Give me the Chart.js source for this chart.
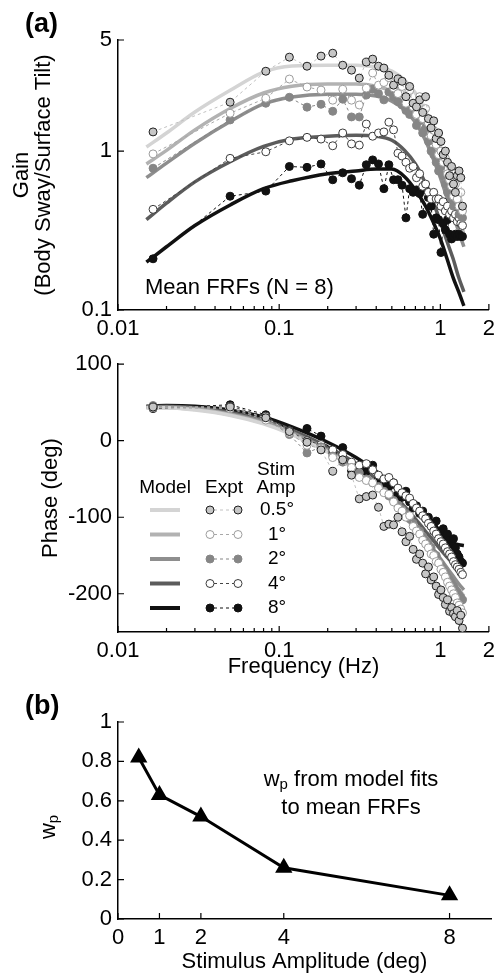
<!DOCTYPE html>
<html>
<head>
<meta charset="utf-8">
<script src="https://cdn.jsdelivr.net/npm/chart.js@4.4.0/dist/chart.umd.min.js"></script>
<style>
body{margin:0;background:#fff;}
#wrap{position:relative;width:501px;height:975px;overflow:hidden;}
canvas{position:absolute;left:0;}
</style>
</head>
<body>
<div id="wrap">
<canvas id="gain" width="501" height="345" style="top:0px"></canvas>
<canvas id="phase" width="501" height="340" style="top:345px"></canvas>
<canvas id="wp" width="501" height="290" style="top:685px"></canvas>
</div>
<script>
// stimulus amplitudes
const amps = ['0.5°', '1°', '2°', '4°', '8°'];

// measured frequencies (Hz), odd harmonics of the stimulus
const freqs = [0.0165,0.0496,0.0826,0.1157,0.1488,0.1818,0.2149,0.2479,0.281,0.314,0.3471,0.3802,0.4132,0.4463,0.4793,0.5124,0.5455,0.5785,0.6116,0.6446,0.6777,0.7107,0.7438,0.7769,0.8099,0.843,0.876,0.9091,0.9421,0.9752,1.0083,1.0413,1.0744,1.1074,1.1405,1.1736,1.2066,1.2397,1.2727,1.3058,1.3388,1.3719];

// experimental gains
const gain05 = [1.32,2.03,3.18,3.9,3.42,3.96,4.13,3.47,3.23,2.88,3.63,3.79,3.42,3.33,3.0,2.6,2.85,2.75,2.2,2.55,2.0,1.9,2.1,1.75,2.2,1.6,1.4,1.55,1.2,1.3,1.15,0.95,1.0,0.85,0.7,0.8,0.62,0.55,0.7,0.75,0.68,0.45];
const gain1 = [0.96,1.73,2.15,2.84,2.53,2.42,2.09,2.45,2.09,1.95,2.49,3.1,2.6,2.7,2.9,2.5,2.3,2.55,2.0,2.4,1.9,1.7,2.2,1.6,1.85,1.5,1.25,1.35,1.1,0.95,1.0,0.85,0.9,0.72,0.66,0.6,0.52,0.62,0.5,0.45,0.55,0.42];
const gain2 = [0.78,1.57,2.0,2.18,1.89,1.97,1.78,2.12,1.64,1.64,2.25,2.45,2.3,2.1,2.35,2.2,2.05,1.95,1.8,1.7,1.9,1.45,1.55,1.3,1.4,1.15,1.0,0.95,0.85,0.75,0.8,0.7,0.62,0.55,0.6,0.5,0.45,0.55,0.48,0.4,0.42,0.38];
const gain4 = [0.43,0.90,0.99,1.16,1.22,1.19,1.08,1.30,1.11,1.09,1.48,1.24,1.30,1.32,1.52,1.36,0.97,0.93,0.85,0.78,0.8,0.68,0.72,0.6,0.62,0.55,0.5,0.55,0.5,0.5,0.45,0.48,0.42,0.45,0.4,0.42,0.38,0.4,0.36,0.38,0.35,0.34];
const gain8 = [0.21,0.52,0.56,0.80,0.79,0.83,0.66,0.73,0.67,0.61,0.82,0.88,0.83,0.58,0.82,0.66,0.66,0.61,0.38,0.58,0.55,0.57,0.54,0.40,0.57,0.51,0.45,0.30,0.38,0.37,0.23,0.35,0.32,0.37,0.30,0.28,0.29,0.30,0.29,0.30,0.29,0.29];

// experimental phases (deg)
const phase05 = [44,44,30,12,-2,-12,-40,-25,-45,-76,-73,-71,-87,-112,-109,-110,-100,-119,-132,-125,-142,-155,-148,-160,-174,-165,-182,-178,-190,-201,-195,-205,-214,-208,-223,-218,-226,-230,-222,-235,-228,-245];
const phase1 = [43,42,27,10,-6,-10,-22,-25,-35,-48,-52,-55,-62,-68,-70,-80,-88,-92,-100,-98,-112,-118,-122,-130,-135,-140,-148,-150,-158,-160,-168,-172,-178,-185,-190,-195,-200,-205,-212,-215,-220,-225];
const phase2 = [46,43,29,8,-16,-8,-20,-28,-35,-42,-50,-55,-60,-66,-72,-78,-84,-90,-95,-102,-108,-115,-118,-125,-130,-135,-140,-148,-150,-158,-162,-168,-172,-178,-182,-186,-190,-195,-198,-202,-205,-208];
const phase4 = [44,45,32,13,0,-5,-12,-18,-28,-32,-30,-38,-45,-50,-48,-55,-62,-68,-72,-75,-82,-88,-92,-98,-102,-108,-112,-118,-122,-128,-132,-135,-140,-145,-148,-152,-158,-162,-165,-168,-172,-175];
const phase8 = [42,47,34,14,16,6,-16,-9,-39,-35,-40,-32,-50,-58,-60,-55,-70,-74,-66,-80,-88,-85,-95,-92,-102,-100,-108,-112,-105,-118,-124,-115,-125,-122,-130,-135,-128,-140,-148,-152,-158,-160];

// model fit curves
const modelFreqs = [0.015,0.02,0.03,0.05,0.08,0.12,0.2,0.3,0.4,0.5,0.6,0.7,0.8,0.9,1.0,1.1,1.2,1.3,1.4];
const modelGain05 = [1.06,1.30,1.76,2.42,3.14,3.43,3.47,3.47,3.38,3.19,2.80,2.32,1.81,1.40,1.04,0.82,0.63,0.51,0.41];
const modelGain1 = [0.83,1.01,1.36,1.86,2.32,2.56,2.64,2.64,2.56,2.38,2.15,1.81,1.44,1.12,0.85,0.66,0.49,0.38,0.30];
const modelGain2 = [0.68,0.84,1.12,1.54,1.98,2.19,2.28,2.28,2.22,2.06,1.81,1.52,1.19,0.90,0.68,0.51,0.40,0.31,0.25];
const modelGain4 = [0.37,0.47,0.64,0.86,1.07,1.19,1.24,1.26,1.24,1.17,1.01,0.83,0.64,0.48,0.36,0.27,0.21,0.16,0.13];
const modelGain8 = [0.20,0.25,0.34,0.46,0.58,0.65,0.72,0.75,0.77,0.77,0.69,0.57,0.46,0.36,0.28,0.21,0.16,0.13,0.106];
const modelPhase05 = [43,43,40,33,22,8,-15,-38,-60,-80,-99,-117,-134,-149,-163,-176,-188,-198,-207];
const modelPhase1 = [43,43,41,34,23,9,-14,-37,-58,-78,-97,-115,-131,-146,-160,-172,-184,-194,-203];
const modelPhase2 = [44,44,42,35,25,11,-12,-35,-56,-75,-94,-111,-127,-141,-154,-166,-177,-187,-195];
const modelPhase4 = [44,45,43,37,27,14,-8,-30,-50,-68,-86,-102,-117,-130,-142,-152,-161,-168,-174];
const modelPhase8 = [45,46,45,40,31,18,-2,-22,-40,-58,-75,-90,-103,-114,-123,-130,-134,-136,-137];

// panel (b)
const stimAmps = [0.5, 1, 2, 4, 8];
const wpValues = [0.82, 0.63, 0.52, 0.26, 0.12];

// tick values and labels
const freqTicks = [0.01,0.02,0.03,0.04,0.05,0.06,0.07,0.08,0.09,0.1,0.2,0.3,0.4,0.5,0.6,0.7,0.8,0.9,1,2];
const freqTickLabels = {0.01:'0.01', 0.1:'0.1', 1:'1', 2:'2'};
const gainTicks = [0.1, 1, 5];
const gainTickLabels = ['0.1', '1', '5'];
const phaseTicks = [-200, -100, 0, 100];
const phaseTickLabels = ['-200', '-100', '0', '100'];
const ampTicks = [0, 1, 2, 4, 8];
const wpTicks = [0, 0.2, 0.4, 0.6, 0.8, 1];
const wpTickLabels = ['0', '0.2', '0.4', '0.6', '0.8', '1'];

const FONT = "'Liberation Sans', Arial, sans-serif";
Chart.defaults.font.family = FONT;
Chart.defaults.font.size = 22;
Chart.defaults.color = '#000';

const styles = [
  {line:'#d4d4d4', dash:'#c2c2c2', fill:'#c6c6c6', edge:'#1e1e1e'},
  {line:'#b2b2b2', dash:'#a8a8a8', fill:'#ffffff', edge:'#9c9c9c'},
  {line:'#8e8e8e', dash:'#858585', fill:'#868686', edge:'#868686'},
  {line:'#5c5c5c', dash:'#444444', fill:'#ffffff', edge:'#3a3a3a'},
  {line:'#111111', dash:'#111111', fill:'#111111', edge:'#111111'}
];

const pts = (xs, ys) => xs.map((x, i) => ({x: x, y: ys[i]}));

function modelSets(list) {
  return list.map((ys, i) => ({
    data: pts(modelFreqs, ys),
    borderColor: styles[i].line, borderWidth: 3.5,
    pointRadius: 0, cubicInterpolationMode: 'monotone', order: 3
  }));
}
function exptSets(list) {
  return list.map((ys, i) => ({
    data: pts(freqs, ys),
    borderColor: styles[i].dash, borderWidth: 1, borderDash: [3, 3],
    pointRadius: 4, pointBorderWidth: 1,
    pointBackgroundColor: styles[i].fill, pointBorderColor: styles[i].edge,
    tension: 0, order: 1
  }));
}

// ticks pointing inward, as in the original
const inTicks = {
  id: 'inTicks',
  afterDatasetsDraw(chart) {
    const {ctx, chartArea: a, scales: {x, y}} = chart;
    ctx.save();
    ctx.strokeStyle = '#000';
    ctx.lineWidth = 1.2;
    ctx.beginPath();
    x.ticks.forEach(t => {
      const px = x.getPixelForValue(t.value);
      const len = t.label !== '' ? 6 : 4;
      ctx.moveTo(px, a.bottom); ctx.lineTo(px, a.bottom - len);
    });
    y.ticks.forEach(t => {
      const py = y.getPixelForValue(t.value);
      ctx.moveTo(a.left, py); ctx.lineTo(a.left + 6, py);
    });
    ctx.stroke();
    ctx.restore();
  }
};

function freqAxis(h, title) {
  return {
    type: 'logarithmic', min: 0.01, max: 2,
    grid: {display: false, drawTicks: false},
    border: {color: '#000', width: 1.5},
    afterBuildTicks: s => { s.ticks = freqTicks.map(v => ({value: v})); },
    ticks: {autoSkip: false, maxRotation: 0, padding: 6,
      callback: v => freqTickLabels[v] || ''},
    title: title,
    afterFit: s => { s.height = h; }
  };
}

const baseOpts = {
  responsive: false, animation: false, devicePixelRatio: 1,
  plugins: {legend: {display: false}, tooltip: {enabled: false}}
};

// ---- gain ----
new Chart(document.getElementById('gain'), {
  type: 'line',
  data: {datasets: [
    ...modelSets([modelGain05, modelGain1, modelGain2, modelGain4, modelGain8]),
    ...exptSets([gain05, gain1, gain2, gain4, gain8])
  ]},
  options: Object.assign({}, baseOpts, {
    layout: {padding: {top: 40, right: 6, left: 0, bottom: 0}},
    scales: {
      x: freqAxis(35, {display: false}),
      y: {
        type: 'logarithmic', min: 0.1, max: 5,
        grid: {display: false, drawTicks: false},
        border: {color: '#000', width: 1.5},
        afterBuildTicks: s => { s.ticks = gainTicks.map(v => ({value: v})); },
        ticks: {autoSkip: false, padding: 6,
          callback: (v, i) => gainTickLabels[gainTicks.indexOf(v)] || ''},
        title: {display: true, text: ['Gain', '(Body Sway/Surface Tilt)'],
          font: {size: 22, lineHeight: 1.0}, padding: {top: 11, bottom: 0}},
        afterFit: s => { s.width = 118; }
      }
    }
  }),
  plugins: [inTicks, {
    id: 'gainNotes',
    afterDraw(chart) {
      const ctx = chart.ctx;
      ctx.save();
      ctx.fillStyle = '#000';
      ctx.textBaseline = 'middle';
      ctx.font = 'bold 27px ' + FONT;
      ctx.fillText('(a)', 25, 25);
      ctx.font = '22px ' + FONT;
      ctx.fillText('Mean FRFs (N = 8)', 145, 288);
      ctx.restore();
    }
  }]
});

// ---- phase ----
new Chart(document.getElementById('phase'), {
  type: 'line',
  data: {datasets: [
    ...modelSets([modelPhase05, modelPhase1, modelPhase2, modelPhase4, modelPhase8]),
    ...exptSets([phase05, phase1, phase2, phase4, phase8])
  ]},
  options: Object.assign({}, baseOpts, {
    layout: {padding: {top: 17, right: 6, left: 0, bottom: 0}},
    scales: {
      x: freqAxis(53, {display: true, text: 'Frequency (Hz)', padding: {top: 0, bottom: 5}}),
      y: {
        type: 'linear', min: -250, max: 100,
        grid: {display: false, drawTicks: false},
        border: {color: '#000', width: 1.5},
        afterBuildTicks: s => { s.ticks = phaseTicks.map(v => ({value: v})); },
        ticks: {autoSkip: false, padding: 6,
          callback: v => phaseTickLabels[phaseTicks.indexOf(v)]},
        title: {display: true, text: 'Phase (deg)', padding: {top: 38, bottom: 0}},
        afterFit: s => { s.width = 118; }
      }
    }
  }),
  plugins: [inTicks, {
    id: 'phaseLegend',
    afterDraw(chart) {
      const ctx = chart.ctx;
      ctx.save();
      ctx.fillStyle = '#000';
      ctx.textAlign = 'center';
      ctx.textBaseline = 'middle';
      ctx.font = '19px ' + FONT;
      ctx.fillText('Model', 165, 143);
      ctx.fillText('Expt', 224, 143);
      ctx.fillText('Stim', 276, 125);
      ctx.fillText('Amp', 276, 143);
      amps.forEach((label, i) => {
        const yy = 165 + i * 24.5;
        const s = styles[i];
        ctx.setLineDash([]);
        ctx.strokeStyle = s.line; ctx.lineWidth = 4;
        ctx.beginPath(); ctx.moveTo(150, yy); ctx.lineTo(180, yy); ctx.stroke();
        ctx.strokeStyle = s.dash; ctx.lineWidth = 1; ctx.setLineDash([3, 3]);
        ctx.beginPath(); ctx.moveTo(214, yy); ctx.lineTo(234, yy); ctx.stroke();
        ctx.setLineDash([]);
        [210, 238].forEach(cx => {
          ctx.beginPath(); ctx.arc(cx, yy, 4, 0, Math.PI * 2);
          ctx.fillStyle = s.fill; ctx.fill();
          ctx.strokeStyle = s.edge; ctx.stroke();
        });
        ctx.fillStyle = '#000';
        ctx.fillText(label, 277, yy);
      });
      ctx.restore();
    }
  }]
});

// ---- wp ----
new Chart(document.getElementById('wp'), {
  type: 'line',
  data: {datasets: [{
    data: pts(stimAmps, wpValues),
    borderColor: '#000', borderWidth: 3, tension: 0,
    pointStyle: 'triangle', pointRadius: 7,
    pointBackgroundColor: '#000', pointBorderColor: '#000'
  }]},
  options: Object.assign({}, baseOpts, {
    layout: {padding: {top: 37, right: 6, left: 0, bottom: 0}},
    scales: {
      x: {
        type: 'linear', min: 0, max: 9,
        grid: {display: false, drawTicks: false},
        border: {color: '#000', width: 1.5},
        afterBuildTicks: s => { s.ticks = ampTicks.map(v => ({value: v})); },
        ticks: {autoSkip: false, maxRotation: 0, padding: 6, callback: v => String(v)},
        title: {display: true, text: 'Stimulus Amplitude (deg)', padding: {top: 0, bottom: 0}},
        afterFit: s => { s.height = 56; }
      },
      y: {
        type: 'linear', min: 0, max: 1,
        grid: {display: false, drawTicks: false},
        border: {color: '#000', width: 1.5},
        afterBuildTicks: s => { s.ticks = wpTicks.map(v => ({value: v})); },
        ticks: {autoSkip: false, padding: 6,
          callback: v => wpTickLabels[wpTicks.indexOf(v)]},
        afterFit: s => { s.width = 118; }
      }
    }
  }),
  plugins: [inTicks, {
    id: 'wpNotes',
    afterDraw(chart) {
      const ctx = chart.ctx;
      ctx.save();
      ctx.fillStyle = '#000';
      ctx.textBaseline = 'middle';
      ctx.font = 'bold 27px ' + FONT;
      ctx.fillText('(b)', 25, 22);
      // "wp from model fits" with subscript p
      const big = '22px ' + FONT, small = '15px ' + FONT;
      ctx.font = big; const w1 = ctx.measureText('w').width;
      const w3 = ctx.measureText(' from model fits').width;
      ctx.font = small; const w2 = ctx.measureText('p').width;
      let x0 = 351 - (w1 + w2 + w3) / 2;
      ctx.font = big; ctx.fillText('w', x0, 95);
      ctx.font = small; ctx.fillText('p', x0 + w1, 100);
      ctx.font = big; ctx.fillText(' from model fits', x0 + w1 + w2, 95);
      ctx.textAlign = 'center';
      ctx.fillText('to mean FRFs', 351, 123);
      // rotated axis title
      ctx.translate(52, 142);
      ctx.rotate(-Math.PI / 2);
      ctx.textAlign = 'left';
      ctx.font = big; const a1 = ctx.measureText('w').width;
      ctx.font = small; const a2 = ctx.measureText('p').width;
      const s0 = -(a1 + a2) / 2;
      ctx.font = big; ctx.fillText('w', s0, -3);
      ctx.font = small; ctx.fillText('p', s0 + a1, 2);
      ctx.restore();
    }
  }]
});
</script>
</body>
</html>
